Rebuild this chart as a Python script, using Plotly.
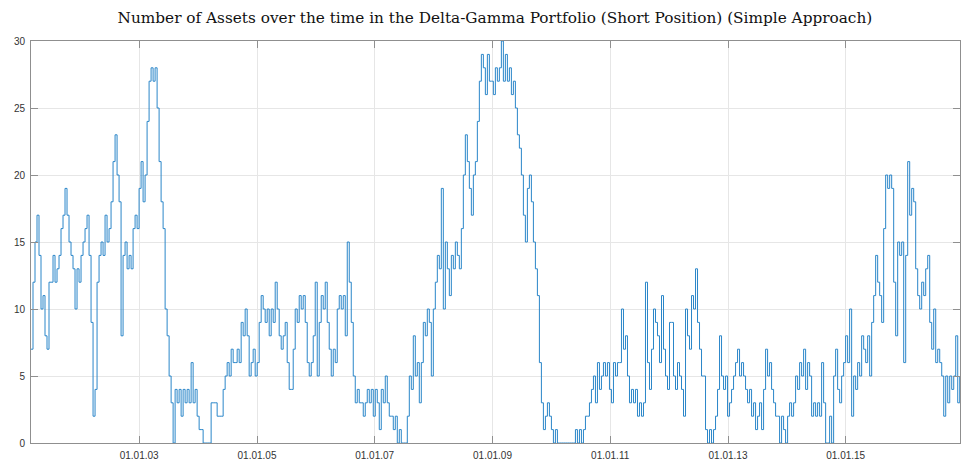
import pandas as pd
import plotly.graph_objects as go

# Number of assets held in the delta-gamma hedge, sampled about every 12.4 days
asset_counts = [
    7, 12, 15, 17, 14, 10, 11, 8, 7, 12,
    12, 14, 12, 13, 14, 16, 17, 19, 17, 15,
    14, 13, 10, 13, 12, 14, 15, 16, 17, 14,
    9, 2, 4, 12, 14, 15, 14, 17, 15, 16,
    18, 21, 23, 20, 18, 8, 14, 15, 13, 14,
    13, 16, 17, 16, 19, 21, 18, 20, 24, 27,
    28, 27, 28, 25, 21, 18, 16, 10, 8, 5,
    3, 0, 4, 3, 4, 2, 4, 3, 4, 3,
    6, 3, 4, 2, 1, 1, 0, 0, 0, 0,
    3, 3, 3, 2, 2, 2, 4, 5, 6, 5,
    7, 6, 6, 7, 6, 9, 8, 10, 8, 5,
    6, 7, 5, 6, 9, 11, 10, 9, 10, 8,
    10, 9, 12, 10, 8, 7, 8, 9, 6, 4,
    4, 7, 10, 9, 11, 10, 11, 9, 6, 5,
    6, 8, 12, 5, 9, 11, 10, 12, 9, 7,
    5, 7, 6, 10, 11, 10, 11, 8, 15, 12,
    9, 5, 3, 4, 3, 3, 2, 3, 4, 3,
    4, 2, 4, 3, 1, 4, 3, 5, 3, 2,
    2, 1, 2, 0, 1, 0, 0, 0, 2, 5,
    4, 8, 5, 6, 3, 6, 9, 8, 10, 9,
    5, 10, 12, 14, 13, 19, 10, 15, 13, 11,
    14, 13, 15, 14, 13, 16, 20, 23, 21, 19,
    17, 20, 21, 24, 27, 29, 28, 26, 29, 27,
    27, 26, 28, 27, 28, 30, 27, 29, 27, 28,
    26, 27, 25, 23, 22, 20, 17, 15, 19, 20,
    18, 15, 13, 11, 6, 3, 1, 2, 3, 2,
    1, 0, 1, 0, 0, 0, 0, 0, 0, 0,
    0, 0, 1, 0, 1, 0, 1, 2, 2, 3,
    4, 5, 3, 6, 4, 5, 6, 5, 6, 4,
    3, 6, 5, 6, 6, 10, 7, 8, 5, 3,
    4, 3, 4, 2, 3, 2, 3, 12, 6, 4,
    7, 10, 9, 8, 6, 11, 7, 5, 4, 9,
    9, 5, 4, 6, 5, 4, 2, 10, 8, 7,
    11, 10, 13, 9, 7, 5, 5, 1, 0, 1,
    0, 1, 2, 4, 8, 5, 4, 5, 2, 3,
    4, 5, 6, 7, 5, 6, 5, 4, 3, 4,
    2, 3, 1, 2, 3, 1, 4, 7, 5, 6,
    4, 3, 2, 2, 0, 2, 1, 0, 2, 3,
    2, 3, 5, 4, 6, 5, 7, 4, 6, 5,
    2, 3, 2, 3, 2, 6, 3, 0, 0, 2,
    0, 5, 7, 4, 3, 5, 6, 8, 6, 10,
    2, 5, 4, 6, 5, 8, 7, 6, 8, 5,
    9, 11, 14, 12, 11, 9, 16, 20, 19, 20,
    19, 12, 8, 15, 14, 15, 6, 14, 21, 17,
    19, 18, 13, 11, 10, 12, 11, 13, 14, 9,
    7, 10, 6, 7, 6, 5, 2, 5, 3, 5,
    4, 5, 8, 3, 5,
]

start_date = "2001-03-01"
sample_step = "298h"
dates = pd.date_range(start=start_date, periods=len(asset_counts), freq=sample_step)

x_tick_dates = ["2003-01-01", "2005-01-01", "2007-01-01", "2009-01-01",
                "2011-01-01", "2013-01-01", "2015-01-01"]
x_tick_labels = ["01.01.03", "01.01.05", "01.01.07", "01.01.09",
                 "01.01.11", "01.01.13", "01.01.15"]
y_ticks = [0, 5, 10, 15, 20, 25, 30]

title_text = ("Number of Assets over the time in the Delta-Gamma Portfolio "
              "(Short Position) (Simple Approach)")

fig = go.Figure()
fig.add_trace(go.Scatter(
    x=dates,
    y=asset_counts,
    mode="lines",
    line=dict(color="#2a86c9", width=1, shape="hv"),
    showlegend=False,
))

axis_common = dict(
    showline=True,
    linecolor="#8f8f8f",
    linewidth=1,
    mirror="ticks",
    ticks="inside",
    ticklen=7,
    tickcolor="#8f8f8f",
    tickwidth=1,
    showgrid=True,
    gridcolor="#e6e6e6",
    gridwidth=1,
    zeroline=False,
    tickfont=dict(family="Liberation Sans, Arial, sans-serif", size=10, color="#333333"),
)

fig.update_layout(
    width=961,
    height=462,
    margin=dict(l=31, r=1, t=41, b=19),
    paper_bgcolor="white",
    plot_bgcolor="white",
    title=dict(
        text=title_text,
        x=0.515,
        xanchor="center",
        y=0.962,
        yanchor="middle",
        font=dict(family="DejaVu Serif, serif", size=15.3, color="#111111"),
    ),
    xaxis=dict(
        range=["2001-03-01", "2016-12-10"],
        tickmode="array",
        tickvals=x_tick_dates,
        ticktext=x_tick_labels,
        ticklabelstandoff=3,
        **axis_common,
    ),
    yaxis=dict(
        range=[0, 30],
        tickmode="array",
        tickvals=y_ticks,
        ticktext=[str(v) for v in y_ticks],
        ticklabelstandoff=3,
        **axis_common,
    ),
)

fig.write_html("out.html")
